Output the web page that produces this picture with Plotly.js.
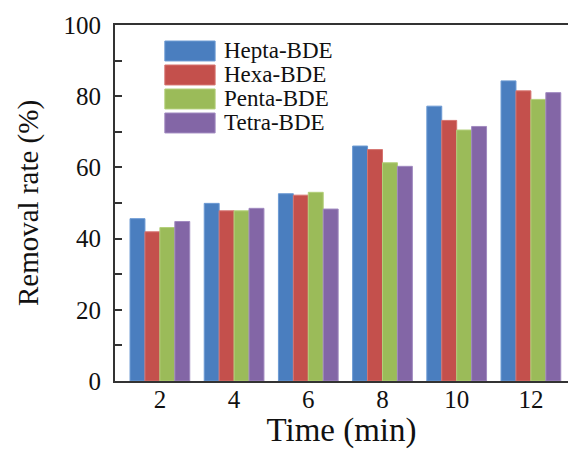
<!DOCTYPE html>
<html>
<head>
<meta charset="utf-8">
<script src="https://cdn.plot.ly/plotly-3.0.1.min.js"></script>
<style>
html,body{margin:0;padding:0;background:#fff;}
#chart{width:568px;height:449px;}
</style>
</head>
<body>
<div id="chart"></div>
<script>
const times = [2, 4, 6, 8, 10, 12];
const seriesNames = ["Hepta-BDE", "Hexa-BDE", "Penta-BDE", "Tetra-BDE"];
const heptaBDE = [45.6, 49.9, 52.6, 66.0, 77.2, 84.3];
const hexaBDE  = [41.9, 47.8, 52.2, 65.0, 73.2, 81.5];
const pentaBDE = [43.1, 47.8, 53.0, 61.3, 70.5, 79.1];
const tetraBDE = [44.8, 48.5, 48.3, 60.3, 71.5, 81.0];
const seriesValues = [heptaBDE, hexaBDE, pentaBDE, tetraBDE];
const colors = ["#4A7EBF", "#C4504C", "#9BBB59", "#8366A6"];
const lineColors = ["#6C9AD3", "#D67470", "#B3CF7A", "#A18AC0"];
const yTicks = [0, 20, 40, 60, 80, 100];

const FONT = "'Liberation Serif', 'Times New Roman', Times, serif";

const traces = seriesNames.map((n, i) => ({
  type: "bar",
  name: n,
  x: times,
  y: seriesValues[i],
  marker: {color: colors[i], line: {color: lineColors[i], width: 1}},
  showlegend: false,
  hoverinfo: "x+y+name"
}));

// custom legend (large swatches like the reference)
const shapes = [];
const annotations = [];
const legTop = 0.955, legH = 0.056, legPitch = 0.0674;
seriesNames.forEach((n, i) => {
  const y1 = legTop - i * legPitch;
  shapes.push({type: "rect", xref: "paper", yref: "paper",
    x0: 0.110, x1: 0.221, y0: y1 - legH, y1: y1,
    fillcolor: colors[i], line: {color: lineColors[i], width: 1}});
  annotations.push({xref: "paper", yref: "paper", x: 0.236, y: y1 - legH / 2,
    xanchor: "left", yanchor: "middle", showarrow: false, text: n,
    font: {family: FONT, size: 23, color: "#111"}});
});

const layout = {
  width: 568, height: 449,
  margin: {l: 115, r: 0, t: 25, b: 68},
  paper_bgcolor: "#ffffff",
  plot_bgcolor: "#ffffff",
  barmode: "group",
  bargap: 0.195,
  bargroupgap: 0,
  font: {family: FONT, color: "#111"},
  xaxis: {
    range: [0.79, 13.0],
    tickvals: times,
    ticktext: times.map(String),
    ticks: "",
    showline: true, linecolor: "#333", linewidth: 2, mirror: true,
    showgrid: false, zeroline: false,
    tickfont: {family: FONT, size: 25, color: "#111"},
    ticklabelstandoff: -5,
    title: {text: "Time (min)", font: {family: FONT, size: 33, color: "#111"}, standoff: 21}
  },
  yaxis: {
    range: [0, 100],
    tickvals: yTicks,
    ticks: "inside", ticklen: 7, tickwidth: 2, tickcolor: "#333",
    minor: {dtick: 10, ticks: "inside", ticklen: 7, tickwidth: 2, tickcolor: "#333"},
    showline: true, linecolor: "#333", linewidth: 2,
    showgrid: false, zeroline: false,
    tickfont: {family: FONT, size: 25, color: "#111"},
    ticklabelstandoff: 7,
    title: {text: "Removal rate (%)", font: {family: FONT, size: 29, color: "#111"}, standoff: 16}
  },
  shapes: shapes,
  annotations: annotations
};

Plotly.newPlot("chart", traces, layout, {displayModeBar: false, staticPlot: true});
</script>
</body>
</html>
